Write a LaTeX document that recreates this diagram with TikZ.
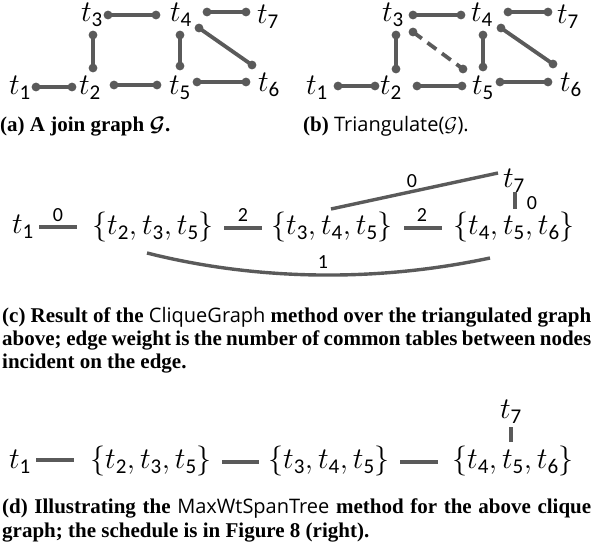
\RequirePackage{fix-cm}
\documentclass[tikz,border=0pt]{standalone}
\usepackage{fontspec}
\setmainfont{Liberation Serif}
\setsansfont{Carlito}
\newfontfamily\capsans{Open Sans}
\definecolor{edgegray}{HTML}{5A5A5A}
\newcommand\tx[1]{$t_{\mathsf{#1}}$}
\newcommand\csf[1]{{\capsans\mdseries\fontsize{20}{23}\selectfont #1}}
\newcommand\dedge[3][]{\draw[gedge,#1] (#2) -- (#3); \fill[edgegray] (#2) circle (4.4pt) (#3) circle (4.4pt);}
\tikzset{
  lbl/.style={inner sep=0pt, font=\fontsize{30}{36}\selectfont},
  gedge/.style={draw=edgegray, line width=3.8pt},
  cedge/.style={draw=edgegray, line width=3.8pt},
  wlbl/.style={inner sep=0pt, font=\sffamily\fontsize{20}{24}\selectfont},
  capt/.style={inner sep=0pt, anchor=base west, font=\fontsize{21}{23}\selectfont},
}
\begin{document}
\begin{tikzpicture}[x=1pt,y=-1pt]
\useasboundingbox (0,0) rectangle (598,557);
% ---------- (a) ----------
\node[lbl] (at3) at (92,15) {\tx3};
\node[lbl] (at4) at (181,15) {\tx4};
\node[lbl] (at7) at (268,17) {\tx7};
\node[lbl] (at1) at (20,88) {\tx1};
\node[lbl] (at2) at (90,88) {\tx2};
\node[lbl] (at5) at (180,88) {\tx5};
\node[lbl] (at6) at (269,85) {\tx6};
\coordinate (a34s) at (108,15); \coordinate (a34e) at (156,15);
\coordinate (a47s) at (207,12); \coordinate (a47e) at (246,12);
\coordinate (a32s) at (93,35);  \coordinate (a32e) at (93,68);
\coordinate (a45s) at (180,35); \coordinate (a45e) at (180,66);
\coordinate (a46s) at (199,28); \coordinate (a46e) at (252,65);
\coordinate (a12s) at (36,87);  \coordinate (a12e) at (72,87);
\coordinate (a25s) at (114,85); \coordinate (a25e) at (157,85);
\coordinate (a56s) at (197,82); \coordinate (a56e) at (246,82);
\dedge{a34s}{a34e}
\dedge{a47s}{a47e}
\dedge{a32s}{a32e}
\dedge{a45s}{a45e}
\dedge{a46s}{a46e}
\dedge{a12s}{a12e}
\dedge{a25s}{a25e}
\dedge{a56s}{a56e}
\node[capt] (capa) at (0,131) {\textbf{(a) A join graph {\boldmath$\mathcal{G}$}.}};
% ---------- (b) ----------
\node[lbl] (bt3) at (393,15) {\tx3};
\node[lbl] (bt4) at (482,15) {\tx4};
\node[lbl] (bt7) at (568,17) {\tx7};
\node[lbl] (bt1) at (317,88) {\tx1};
\node[lbl] (bt2) at (391,88) {\tx2};
\node[lbl] (bt5) at (483,88) {\tx5};
\node[lbl] (bt6) at (571,85) {\tx6};
\coordinate (b34s) at (413,15); \coordinate (b34e) at (461,15);
\coordinate (b47s) at (508,12); \coordinate (b47e) at (548,12);
\coordinate (b32s) at (396,35); \coordinate (b32e) at (396,69);
\coordinate (b35s) at (413,32); \coordinate (b35e) at (463,69);
\coordinate (b45s) at (483,35); \coordinate (b45e) at (483,67);
\coordinate (b46s) at (501,28); \coordinate (b46e) at (553,64);
\coordinate (b12s) at (338,86); \coordinate (b12e) at (375,86);
\coordinate (b25s) at (417,86); \coordinate (b25e) at (462,86);
\coordinate (b56s) at (500,82); \coordinate (b56e) at (548,82);
\dedge{b34s}{b34e}
\dedge{b47s}{b47e}
\dedge{b32s}{b32e}
\dedge[dash pattern=on 11pt off 7pt]{b35s}{b35e}
\dedge{b45s}{b45e}
\dedge{b46s}{b46e}
\dedge{b12s}{b12e}
\dedge{b25s}{b25e}
\dedge{b56s}{b56e}
\node[capt] (capb) at (303,131) {\textbf{(b)} \csf{Triangulate($\mathcal{G}$).}};
% ---------- (c) ----------
\node[lbl] (c1) at (23,227) {\tx1};
\node[lbl] (c2) at (153,227) {$\{t_{\mathsf{2}},t_{\mathsf{3}},t_{\mathsf{5}}\}$};
\node[lbl] (c3) at (332,227) {$\{t_{\mathsf{3}},t_{\mathsf{4}},t_{\mathsf{5}}\}$};
\node[lbl] (c4) at (514,227) {$\{t_{\mathsf{4}},t_{\mathsf{5}},t_{\mathsf{6}}\}$};
\node[lbl] (c7) at (514,181) {\tx7};
\coordinate (c12s) at (39,227);  \coordinate (c12e) at (77,227);
\coordinate (c23s) at (224,228); \coordinate (c23e) at (262,228);
\coordinate (c34s) at (404,228); \coordinate (c34e) at (442,228);
\coordinate (c74s) at (515,192); \coordinate (c74e) at (515,209);
\coordinate (c37s) at (331,209); \coordinate (c37e) at (498,173);
\coordinate (c24s) at (147,253); \coordinate (c24e) at (490,258);
\draw[cedge] (c12s) -- (c12e);
\draw[cedge] (c23s) -- (c23e);
\draw[cedge] (c34s) -- (c34e);
\draw[cedge] (c74s) -- (c74e);
\draw[cedge, line width=3.4pt] (c37s) -- (c37e);
\draw[cedge, line width=3.4pt] (c24s) .. controls (260,281.5) and (380,281.5) .. (c24e);
\node[wlbl] (w12) at (58,215) {0};
\node[wlbl] (w23) at (243,215) {2};
\node[wlbl] (w34) at (422,215) {2};
\node[wlbl] (w37) at (412,181) {0};
\node[wlbl] (w74) at (532,203) {0};
\node[wlbl] (w24) at (323,262) {1};
\node[capt] (capc1) at (2,322) {\makebox[589pt][s]{\textbf{(c) Result of the \csf{CliqueGraph} method over the triangulated graph}}};
\node[capt] (capc2) at (2,345) {\makebox[589pt][s]{\textbf{above; edge weight is the number of common tables between nodes}}};
\node[capt] (capc3) at (2,368) {\textbf{incident on the edge.}};
% ---------- (d) ----------
\node[lbl] (d1) at (20,462) {\tx1};
\node[lbl] (d2) at (151,461) {$\{t_{\mathsf{2}},t_{\mathsf{3}},t_{\mathsf{5}}\}$};
\node[lbl] (d3) at (329,461) {$\{t_{\mathsf{3}},t_{\mathsf{4}},t_{\mathsf{5}}\}$};
\node[lbl] (d4) at (513,461) {$\{t_{\mathsf{4}},t_{\mathsf{5}},t_{\mathsf{6}}\}$};
\node[lbl] (d7) at (511,412) {\tx7};
\coordinate (d12s) at (36,460);  \coordinate (d12e) at (74,460);
\coordinate (d23s) at (222,462); \coordinate (d23e) at (259,462);
\coordinate (d34s) at (400,462); \coordinate (d34e) at (438,462);
\coordinate (d74s) at (511,427); \coordinate (d74e) at (511,442);
\draw[cedge] (d12s) -- (d12e);
\draw[cedge] (d23s) -- (d23e);
\draw[cedge] (d34s) -- (d34e);
\draw[cedge] (d74s) -- (d74e);
\node[capt] (capd1) at (2,513) {\makebox[589pt][s]{\textbf{(d) Illustrating the \csf{MaxWtSpanTree} method for the above clique}}};
\node[capt] (capd2) at (2,537) {\textbf{graph; the schedule is in Figure 8 (right).}};
\end{tikzpicture}
\end{document}
